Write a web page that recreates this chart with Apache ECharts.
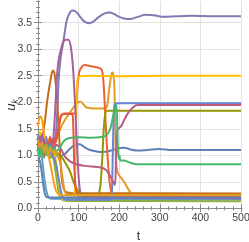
<!DOCTYPE html>
<html><head><meta charset="utf-8">
<script src="https://cdn.jsdelivr.net/npm/echarts@6/dist/echarts.min.js"></script>
<style>html,body{margin:0;padding:0;background:#fff}#c{width:249px;height:242px}</style>
</head><body><div id="c"></div>
<script>
// tick values / labels
const xTicks = [0, 100, 200, 300, 400, 500];
const xTickLabels = ['0', '100', '200', '300', '400', '500'];
const yTicks = [0, 0.5, 1, 1.5, 2, 2.5, 3, 3.5];
const yTickLabels = ['0.0', '0.5', '1.0', '1.5', '2.0', '2.5', '3.0', '3.5'];

// curves: [t, u_k]
const uBlue1 = [[0,1.3],[5,1.0],[10,1.35],[15,0.95],[20,1.25],[25,1.0],[30,1.15],[35,0.95],[40,1.05],[50,0.97],[60,1.0],[68,1.04],[78,1.12],[90,1.19],[103,1.21],[115,1.15],[128,1.1],[145,1.07],[160,1.06],[180,1.09],[195,1.13],[212,1.14],[228,1.11],[245,1.09],[270,1.1],[298,1.12],[330,1.1],[400,1.1],[500,1.1]];
const uOrange1 = [[0,1.35],[5,1.2],[10,1.1],[15,1.3],[20,1.25],[25,1.15],[30,1.2],[35,1.3],[40,1.25],[45,1.32],[50,1.41],[58,1.55],[65,1.65],[71,1.72],[80,1.82],[90,1.93],[97,1.99],[105,2.01],[112,1.96],[120,1.9],[140,1.88],[166,1.88],[170,1.92],[174,2.15],[178,2.4],[182,2.55],[185,2.56],[188,2.3],[190,1.6],[192,0.95],[195,0.7],[200,0.62],[212,0.5],[225,0.33],[236,0.255],[260,0.25],[500,0.25]];
const uGreenY = [[0,1.0],[5,1.2],[10,0.95],[15,1.15],[20,1.0],[25,1.1],[30,0.95],[35,1.0],[40,0.85],[45,0.6],[50,0.35],[55,0.2],[62,0.15],[80,0.14],[500,0.135]];
const uRed1 = [[0,1.25],[5,1.4],[10,1.15],[15,1.35],[20,1.1],[25,1.3],[30,1.15],[35,1.3],[40,1.2],[46,1.3],[50,1.45],[54,1.65],[58,1.76],[65,1.79],[90,1.79],[94,1.95],[98,2.35],[102,2.58],[108,2.67],[116,2.7],[130,2.68],[144,2.66],[155,2.63],[159,2.55],[162,2.3],[165,1.85],[169,1.27],[173,0.8],[177,0.45],[182,0.27],[188,0.235],[500,0.23]];
const uPurple = [[0,1.25],[5,1.1],[10,1.3],[15,1.15],[20,1.35],[25,1.2],[30,1.3],[35,1.15],[40,1.25],[44,1.4],[48,1.9],[51,2.45],[56,2.85],[62,3.12],[67,3.38],[71,3.55],[77,3.67],[84,3.73],[93,3.71],[102,3.63],[113,3.53],[126,3.49],[138,3.53],[150,3.61],[163,3.67],[176,3.69],[188,3.66],[200,3.61],[212,3.58],[228,3.57],[246,3.61],[265,3.65],[285,3.64],[310,3.61],[340,3.62],[380,3.63],[430,3.62],[500,3.62]];
const uBrown = [[0,1.2],[5,1.05],[10,1.3],[14,1.5],[18,1.7],[21,1.92],[25,2.15],[30,2.38],[34,2.55],[37,2.6],[40,2.56],[43,2.4],[46,2.17],[50,1.66],[54,1.1],[58,0.6],[62,0.4],[68,0.31],[80,0.29],[500,0.28]];
const uLightBlue = [[0,1.1],[4,1.3],[8,1.05],[12,0.8],[16,0.55],[20,0.35],[25,0.22],[32,0.18],[500,0.17]];
const uYellow = [[0,1.2],[5,1.45],[10,1.25],[15,1.4],[20,1.15],[25,1.3],[30,1.1],[35,1.2],[40,1.05],[45,0.85],[50,0.55],[55,0.3],[60,0.18],[70,0.16],[88,0.16],[91,0.5],[93,1.3],[95,2.0],[97,2.4],[100,2.48],[130,2.5],[200,2.49],[300,2.5],[500,2.5]];
const uMagenta = [[0,1.35],[5,1.15],[10,1.4],[15,1.2],[20,1.3],[25,1.1],[30,1.25],[35,1.2],[39,1.45],[43,1.95],[46,2.42],[50,2.75],[54,2.92],[62,3.14],[69,3.18],[75,3.18],[80,3.08],[84,2.85],[87,2.57],[91,2.0],[96,1.2],[101,0.5],[106,0.25],[115,0.2],[500,0.19]];
const uOlive = [[0,1.25],[5,1.05],[10,1.2],[15,1.0],[20,1.15],[25,1.05],[30,1.2],[35,1.0],[40,1.1],[50,1.02],[60,0.95],[70,0.82],[79,0.69],[90,0.45],[103,0.28],[115,0.22],[145,0.22],[150,0.28],[154,0.45],[158,0.9],[162,1.5],[166,1.8],[170,1.84],[500,1.84]];
const uRed2 = [[0,1.1],[5,1.3],[10,1.2],[15,1.0],[20,1.25],[25,1.15],[30,1.35],[35,1.1],[40,1.25],[46,1.35],[50,1.5],[54,1.68],[58,1.76],[65,1.78],[84,1.78],[87,1.5],[89,0.9],[92,0.45],[97,0.25],[105,0.225],[500,0.225]];
const uBlue2 = [[0,1.4],[5,1.2],[10,1.3],[15,1.15],[20,1.3],[25,1.1],[30,1.2],[35,1.0],[40,0.95],[45,0.8],[50,0.6],[55,0.38],[60,0.22],[68,0.16],[180,0.16],[183,0.6],[185,1.3],[187,1.85],[190,1.97],[200,1.98],[500,1.98]];
const uOrange2 = [[0,1.55],[3,1.7],[7,1.73],[11,1.62],[15,1.4],[20,1.15],[25,1.0],[30,0.85],[35,0.65],[40,0.45],[45,0.32],[52,0.26],[60,0.245],[500,0.245]];
const uPink = [[0,1.2],[5,1.35],[10,1.1],[15,1.3],[20,1.15],[25,1.25],[30,1.05],[35,1.2],[40,1.1],[45,1.2],[52,1.16],[58,1.1],[66,0.98],[80,0.88],[95,0.83],[115,0.8],[155,0.77],[168,0.72],[180,0.58],[189,0.44],[192,0.9],[195,1.47],[205,1.55],[212,1.66],[222,1.8],[235,1.91],[245,1.95],[500,1.95]];
const uGreen = [[0,1.15],[4,0.95],[8,1.2],[12,1.0],[16,1.18],[20,1.02],[24,1.2],[28,1.05],[32,1.17],[36,1.04],[40,1.15],[45,1.08],[52,1.12],[58,1.2],[65,1.28],[75,1.32],[100,1.34],[130,1.33],[160,1.35],[170,1.39],[178,1.5],[184,1.7],[190,1.9],[193,1.95],[195,1.6],[197,1.1],[199,0.93],[201,0.99],[203,0.9],[212,0.9],[224,0.87],[236,0.84],[250,0.83],[500,0.83]];
const uBlue3 = [[0,0.95],[4,0.9],[8,0.75],[12,0.5],[16,0.3],[20,0.22],[26,0.205],[500,0.205]];
const uOrange3 = [[0,1.3],[5,1.15],[10,1.25],[15,1.05],[20,1.2],[25,1.0],[30,1.15],[35,1.05],[40,1.1],[48,1.0],[55,0.85],[60,0.6],[65,0.35],[70,0.27],[78,0.255],[500,0.25]];

const curves = [
  [uBlue1, '#5E81B5'], [uOrange1, '#E19C24'], [uGreenY, '#8FB032'], [uRed1, '#EB6235'],
  [uPurple, '#8778B3'], [uBrown, '#C56E1A'], [uLightBlue, '#5D9EC7'], [uYellow, '#FFBF00'],
  [uMagenta, '#A5609D'], [uOlive, '#929600'], [uRed2, '#E95536'], [uBlue2, '#6685D9'],
  [uOrange2, '#F89F13'], [uPink, '#BC5B80'], [uGreen, '#47B66D'], [uBlue3, '#5E81B5'],
  [uOrange3, '#E19C24']
];

const xMinor = [], yMinor = [];
for (let i = 0; i < xTicks.length - 1; i++) for (let k = 1; k < 5; k++) xMinor.push(xTicks[i] + k * (xTicks[i+1] - xTicks[i]) / 5);
for (let i = 0; i < yTicks.length - 1; i++) for (let k = 1; k < 5; k++) yMinor.push(+(yTicks[i] + k * 0.1).toFixed(2));
for (let k = 1; k < 5; k++) yMinor.push(+(3.5 + k * 0.1).toFixed(2));

const XMIN = -7.4, XMAX = 502.5, YMIN = -0.013, YMAX = 3.909;
const frameColor = '#8a8a8a';
const labelFont = {fontFamily: 'Liberation Sans', fontSize: 10.5, color: '#444'};

function xAx(pos, major, withLabels) {
  return {
    type: 'value', min: XMIN, max: XMAX, position: pos, splitNumber: 5,
    axisLine: {show: major, lineStyle: {color: frameColor, width: 1}},
    axisTick: {show: true, inside: true, length: major ? 4 : 2, customValues: major ? xTicks : xMinor, lineStyle: {color: frameColor}},
    axisLabel: withLabels ? Object.assign({show: true, margin: 4, customValues: xTicks,
      formatter: v => xTickLabels[xTicks.indexOf(v)] ?? ''}, labelFont) : {show: false},
    splitLine: {show: withLabels, lineStyle: {color: '#e2e2e2', width: 1}},
    name: withLabels ? 't' : '', nameLocation: 'middle', nameGap: 21, nameMoveOverlap: false,
    nameTextStyle: {fontFamily: 'Liberation Sans', fontSize: 12.5, color: '#333'}
  };
}
function yAx(pos, major, withLabels) {
  return {
    type: 'value', min: YMIN, max: YMAX, position: pos, splitNumber: 8, minInterval: 0.5, maxInterval: 0.5,
    axisLine: {show: major, lineStyle: {color: frameColor, width: 1}},
    axisTick: {show: true, inside: true, length: major ? 4 : 2, customValues: major ? yTicks : yMinor, lineStyle: {color: frameColor}},
    axisLabel: withLabels ? Object.assign({show: true, margin: 3, customValues: yTicks,
      formatter: v => yTickLabels[yTicks.findIndex(t => Math.abs(t - v) < 1e-6)] ?? ''}, labelFont) : {show: false},
    splitLine: {show: withLabels, lineStyle: {color: '#e2e2e2', width: 1}},
    name: withLabels ? '{u|u}{k|k}' : '', nameLocation: 'middle', nameGap: 16, nameRotate: 90, nameMoveOverlap: false,
    nameTextStyle: {rich: {
      u: {fontFamily: 'Liberation Sans', fontStyle: 'italic', fontSize: 13, color: '#333', lineHeight: 15},
      k: {fontFamily: 'Liberation Sans', fontStyle: 'italic', fontSize: 9, color: '#333', lineHeight: 11, padding: [8, 0, 0, 0]}
    }}
  };
}

const chart = echarts.init(document.getElementById('c'), null, {renderer: 'canvas'});
chart.setOption({
  animation: false,
  backgroundColor: '#fff',
  grid: {left: 35, right: 7, top: 1, bottom: 33, containLabel: false, outerBoundsMode: 'none'},
  xAxis: [xAx('bottom', true, true), xAx('bottom', false, false), xAx('top', true, false), xAx('top', false, false)],
  yAxis: [yAx('left', true, true), yAx('left', false, false), yAx('right', true, false), yAx('right', false, false)],
  series: curves.map(([d, col]) => ({
    type: 'line', data: d, xAxisIndex: 0, yAxisIndex: 0, showSymbol: false, symbol: 'none',
    smooth: 0.3, lineStyle: {color: col, width: 2}, itemStyle: {color: col},
    emphasis: {disabled: true}, silent: true, clip: true
  }))
});
</script></body></html>
